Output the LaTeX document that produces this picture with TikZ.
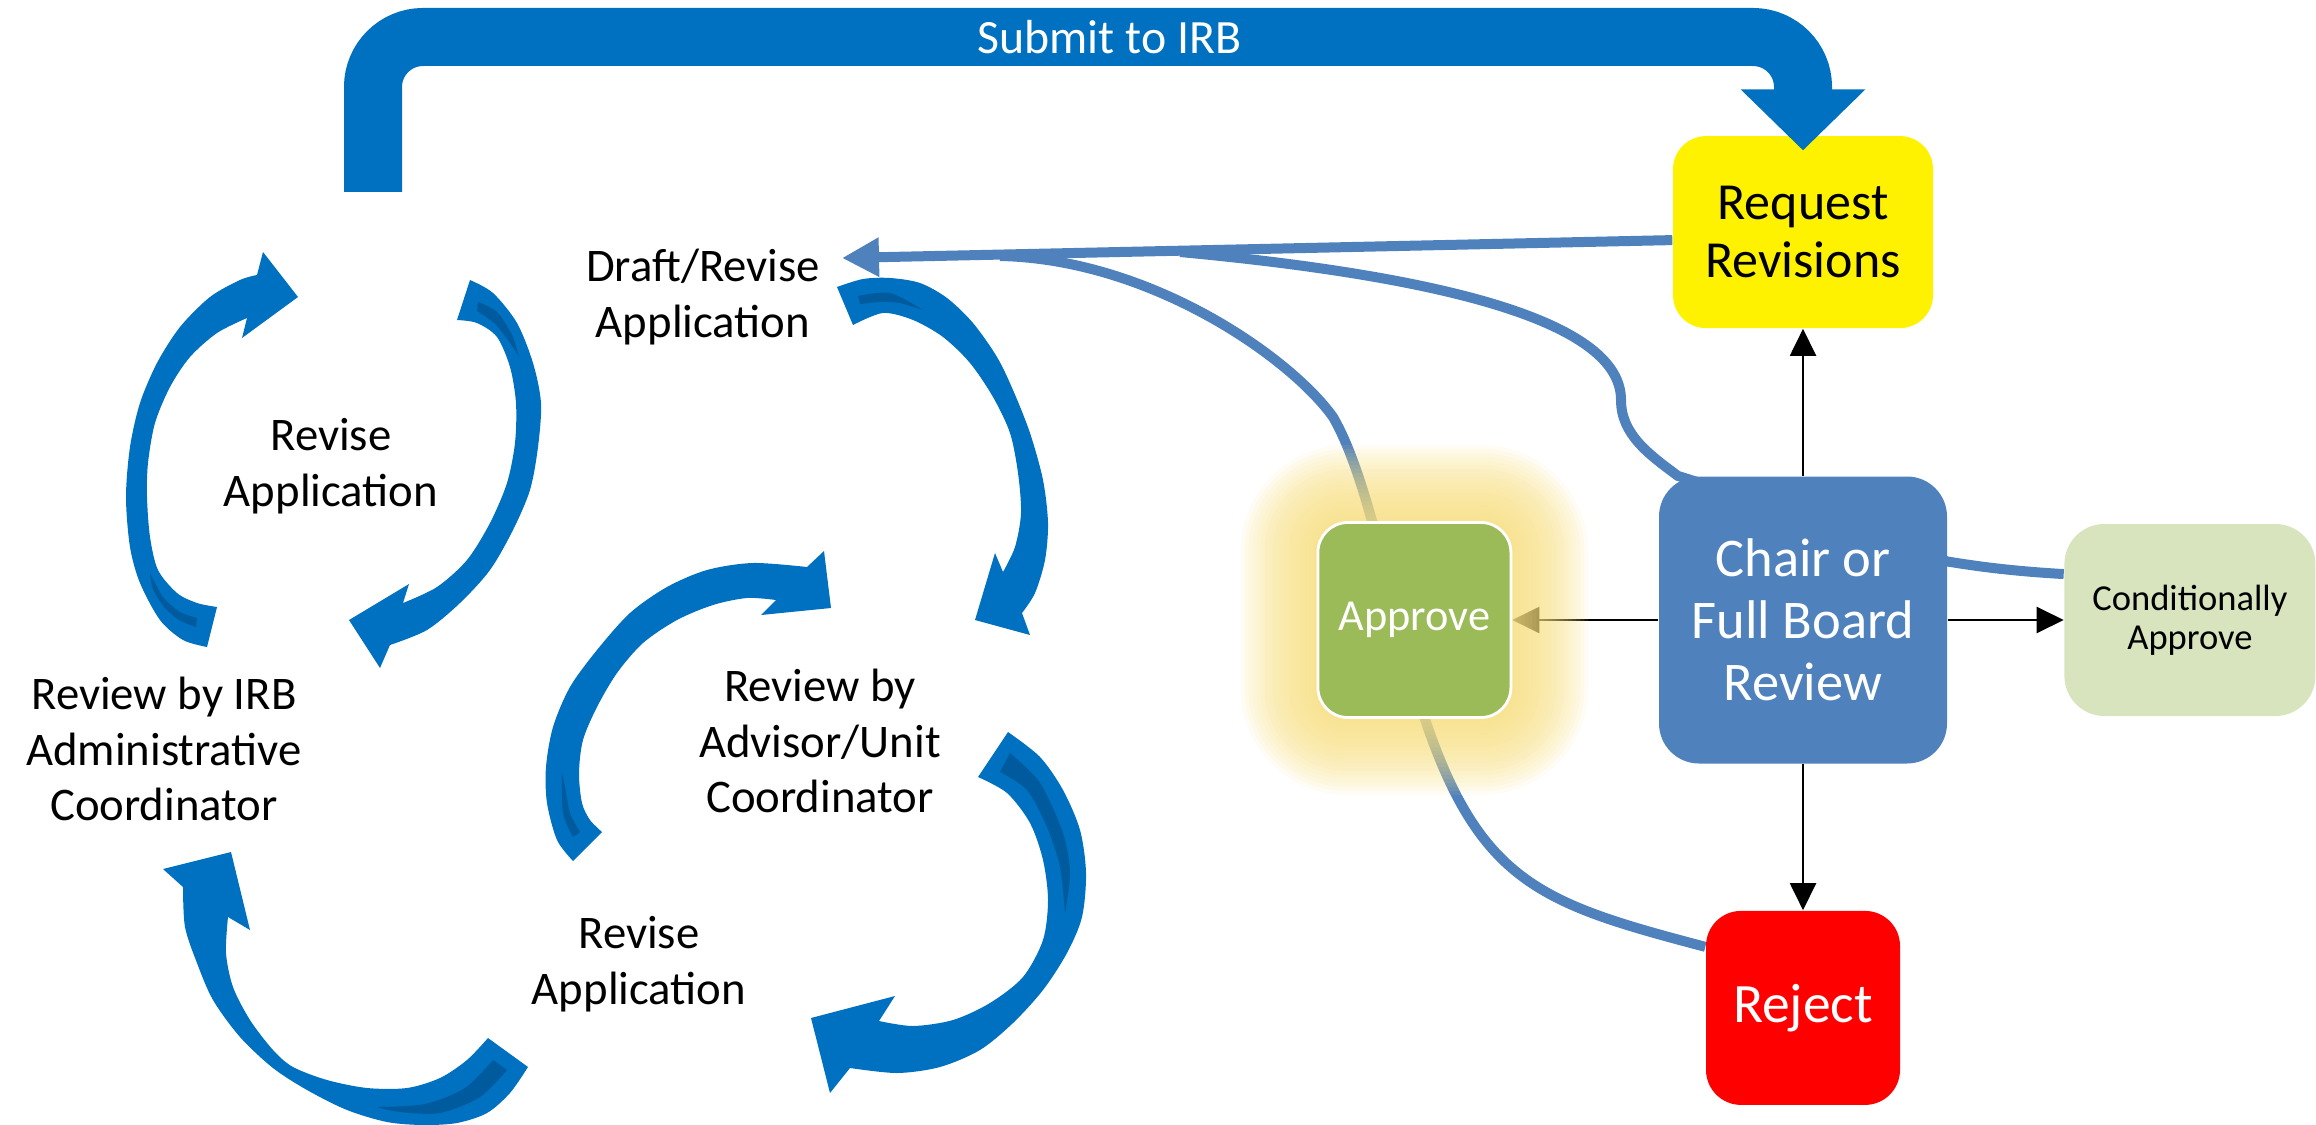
\documentclass[tikz,border=0pt]{standalone}
\usepackage{fontspec}
\setmainfont{Carlito}
\usepackage{xcolor}
\usepackage{tikz}
\usetikzlibrary{positioning,arrows.meta}

\definecolor{cycleblue}{RGB}{0,112,192}
\definecolor{cycleshade}{RGB}{0,90,158}
\definecolor{linkblue}{RGB}{79,129,189}
\definecolor{approvegreen}{RGB}{155,187,89}
\definecolor{condgreen}{RGB}{215,228,189}
\definecolor{glowyellow}{RGB}{247,222,128}

\pgfdeclarelayer{links}
\pgfdeclarelayer{glow}
\pgfsetlayers{links,glow,main}

\begin{document}
\begin{tikzpicture}[
  x=0.1mm, y=-0.1mm,
  decision/.style={
    rectangle, rounded corners=4mm, align=center,
    inner sep=2pt
  },
  steplabel/.style={align=center, font=\fontsize{13.3}{15.9}\selectfont},
  feedback/.style={line width=1mm, draw=linkblue},
  outcome/.style={-{Triangle[length=2.7mm,width=2.6mm]}, line width=0.6pt, black},
  submit/.style={-{Triangle[length=6.1mm,width=12.1mm]}, line width=5.8mm,
    draw=cycleblue, rounded corners=5mm},
  cyclearrow/.style={fill=cycleblue},
  cycleinner/.style={fill=cycleshade}
]

\useasboundingbox (0,0) rectangle (2316,1125);

% Board decision nodes
\node[decision, fill=linkblue, text=white, minimum width=28.8mm, minimum height=28.7mm,
  font=\fontsize{15.5}{17.6}\selectfont] (chair) at (1803,620) {Chair or\\Full Board\\Review};
\node[decision, fill=yellow, rounded corners=3.3mm, minimum width=26mm, minimum height=19.2mm,
  font=\fontsize{14.8}{16.5}\selectfont, above=14.7mm of chair] (req) {Request\\Revisions};
\node[decision, fill=red, text=white, rounded corners=3.5mm, minimum width=19.4mm,
  minimum height=19.4mm, font=\fontsize{15.8}{18}\selectfont, below=14.6mm of chair] (rej) {Reject};
\node[decision, fill=approvegreen, draw=white, line width=0.8pt, text=white, rounded corners=3mm,
  minimum width=19.3mm, minimum height=19.5mm, font=\fontsize{12.6}{15}\selectfont,
  left=14.6mm of chair] (appr) {Approve};
\node[decision, fill=condgreen, minimum width=25.1mm, minimum height=19.2mm,
  font=\fontsize{10.4}{11.2}\selectfont, right=11.6mm of chair] (cond) {Conditionally\\Approve};

% Steps of the review loop
\node[steplabel] (draft)  at (703,297)  {Draft/Revise\\Application};
\node[steplabel] (revtop) at (331,466)  {Revise\\Application};
\node[steplabel] (irb)    at (164,749)  {Review by IRB\\Administrative\\Coordinator};
\node[steplabel] (adv)    at (820,741)  {Review by\\Advisor/Unit\\Coordinator};
\node[steplabel] (revbot) at (639,964)  {Revise\\Application};

\coordinate (drafttip) at (842,258);
\coordinate (submitfoot) at (373,192);

% Links back to drafting, and the board outcomes
\begin{pgfonlayer}{links}
  \draw[feedback, -{Triangle[length=3.7mm,width=3.7mm]}] ([yshift=-0.8mm]req.west) -- (drafttip);
  \draw[feedback] (cond.160) .. controls (2010,571) and (1975,566) .. (chair.22) -- (chair.131)
    .. controls (1650,455) and (1621,435) .. (1621,400)
    .. controls (1621,330) and (1480,280) .. (1180,252);
  \draw[feedback] (rej.148) .. controls (1547,905) and (1483,885) .. (1428,728)
    .. controls (1395,634) and (1373,486) .. (1333,417)
    .. controls (1290,357) and (1150,259) .. (1000,256);

  \draw[outcome] (chair) -- (req);
  \draw[outcome] (chair) -- (rej);
  \draw[outcome] (chair) -- (cond);
  \draw[outcome] (chair) -- (appr);
\end{pgfonlayer}

% soft halo round the approve box
\begin{pgfonlayer}{glow}
  \foreach \e in {4,8,...,76}
    \fill[glowyellow, fill opacity=0.09, rounded corners={(30+\e)*0.1mm}]
      ([shift={(-\e,-\e)}]appr.north west) rectangle ([shift={(\e,\e)}]appr.south east);
\end{pgfonlayer}

% Submit to IRB
\draw[submit] (submitfoot) -- (373,37)
  -- node[pos=0.515, text=white, font=\fontsize{13.6}{16}\selectfont] {Submit to IRB} (req.north |- 0,37)
  -- ([yshift=-1.5mm]req.north);

% upper loop, left half
\fill[cyclearrow] (207,647) -- plot[smooth] coordinates {(207,647) (183,640) (160,620) (140,583) (130,547) (126,497) (130,447) (140,403) (157,363) (180,327) (210,297) (240,280) (257,275)}
  -- (263,252) -- (298,297) -- (242,338) -- (247,318)
  -- plot[smooth] coordinates {(247,318) (217,333) (190,357) (170,387) (155,423) (148,463) (147,497) (150,537) (158,570) (177,593) (197,603) (217,607)} -- cycle;
\fill[cycleinner] plot[smooth] coordinates {(150,573) (163,597) (180,612) (197,618)}
  -- plot[smooth] coordinates {(196,627) (179,620) (164,607) (153,589) (150,573)} -- cycle;

% upper loop, right half
\fill[cyclearrow] (470,280) -- plot[smooth] coordinates {(470,280) (493,293) (517,323) (533,363) (541,403) (538,447) (530,490) (513,530) (490,570) (460,603) (427,630) (390,645)}
  -- (380,668) -- (349,620) -- (409,584) -- (403,603)
  -- plot[smooth] coordinates {(403,603) (437,587) (467,560) (490,523) (507,483) (515,443) (516,403) (510,367) (497,337) (477,323) (457,320)} -- cycle;
\fill[cycleinner] plot[smooth] coordinates {(478,302) (497,312) (512,335) (519,357)}
  -- plot[smooth] coordinates {(519,357) (508,340) (494,323) (477,311)} -- cycle;

% draft to advisor
\fill[cyclearrow] (837,287) -- plot[smooth] coordinates {(837,287) (863,279) (890,278) (920,283) (947,298) (973,323) (997,357) (1013,390) (1030,433) (1043,480) (1048,523) (1045,560) (1035,593) (1022,613)}
  -- (1030,635) -- (975,620) -- (995,553) -- (1003,572)
  -- plot[smooth] coordinates {(1003,572) (1015,547) (1021,513) (1018,473) (1010,433) (993,397) (970,363) (943,337) (913,320) (883,313) (853,325)} -- cycle;
\fill[cycleinner] plot[smooth] coordinates {(858,296) (890,293) (923,310)}
  -- plot[smooth] coordinates {(923,310) (900,303) (880,302) (860,304)} -- cycle;

% lower loop, left arrow
\fill[cyclearrow] (573,861) -- plot[smooth] coordinates {(573,861) (557,840) (547,803) (546,767) (553,727) (570,687) (597,650) (630,613) (667,587) (707,570) (753,563) (807,567)}
  -- (824,551) -- (831,608) -- (761,615) -- (776,600)
  -- plot[smooth] coordinates {(776,600) (747,598) (713,605) (677,620) (643,643) (617,673) (597,707) (583,740) (579,773) (582,803) (590,820) (602,832)} -- cycle;
\fill[cycleinner] plot[smooth] coordinates {(562,773) (563,813) (573,837)}
  -- plot[smooth] coordinates {(580,832) (570,813) (565,787) (562,773)} -- cycle;

% lower loop, right arrow
\fill[cyclearrow] (1008,732) -- plot[smooth] coordinates {(1008,732) (1040,757) (1063,790) (1080,830) (1086,873) (1082,917) (1067,953) (1043,990) (1013,1023) (980,1050) (940,1067) (897,1073) (850,1068)}
  -- (830,1093) -- (811,1018) -- (895,996) -- (879,1021)
  -- plot[smooth] coordinates {(879,1021) (913,1026) (953,1020) (990,1003) (1023,977) (1043,940) (1048,900) (1043,860) (1030,823) (1007,793) (978,777)} -- cycle;
\fill[cycleinner] plot[smooth] coordinates {(1010,753) (1040,783) (1063,833) (1070,873) (1065,913)}
  -- plot[smooth] coordinates {(1065,913) (1060,867) (1047,827) (1027,790) (1000,772)} -- cycle;

% bottom arrow back to the IRB review
\fill[cyclearrow] (528,1067) -- plot[smooth] coordinates {(528,1067) (510,1093) (487,1113) (457,1123) (423,1125) (387,1122) (347,1110) (307,1090) (273,1068) (240,1037) (213,1000) (197,963) (185,927) (183,887)}
  -- (163,869) -- (231,852) -- (250,930) -- (228,917)
  -- plot[smooth] coordinates {(228,917) (226,953) (233,987) (250,1020) (273,1050) (293,1067) (327,1080) (367,1088) (407,1088) (440,1078) (467,1060) (488,1038)} -- cycle;
\fill[cycleinner] plot[smooth] coordinates {(377,1107) (425,1104) (465,1088) (493,1060)}
  -- plot[smooth] coordinates {(507,1070) (480,1097) (440,1113) (400,1112) (377,1107)} -- cycle;

\end{tikzpicture}
\end{document}
